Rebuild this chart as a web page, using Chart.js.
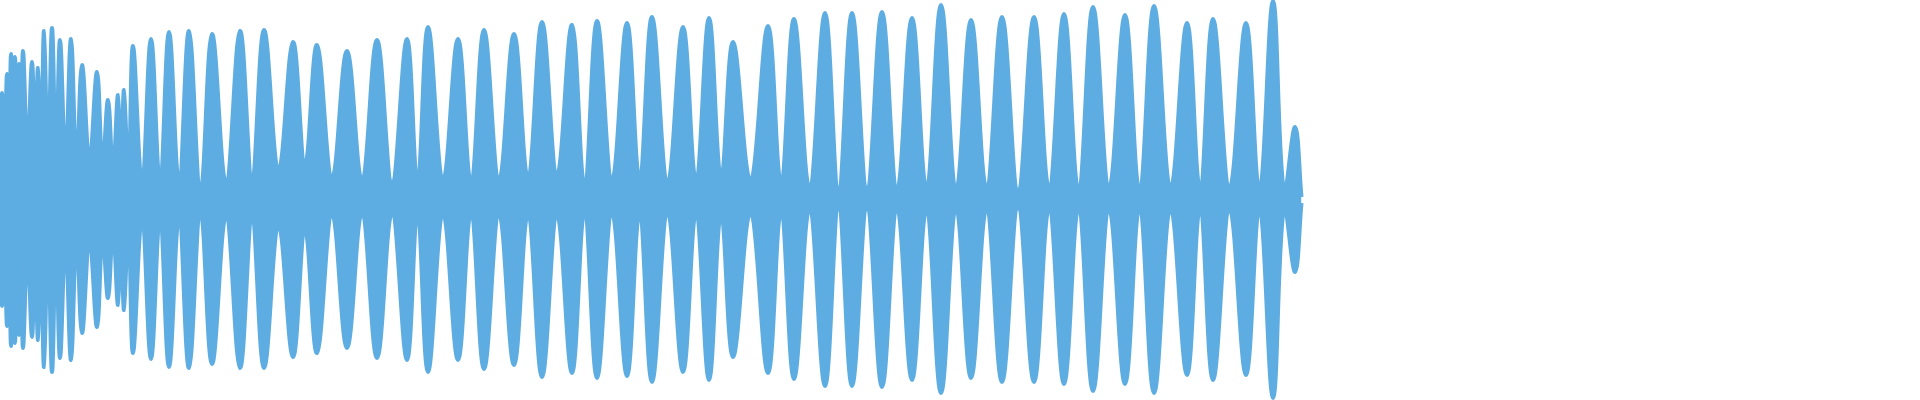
<!DOCTYPE html>
<html>
<head>
<meta charset="utf-8">
<script src="https://cdn.jsdelivr.net/npm/chart.js@4/dist/chart.umd.min.js"></script>
<style>
  html, body { margin: 0; padding: 0; background: #fff; }
  #wrap { width: 1920px; height: 400px; }
</style>
</head>
<body>
<div id="wrap"><canvas id="wave" width="1920" height="400"></canvas></div>
<script>
// Waveform envelope (y in pixels, 0 = top, centre = 200)
const lobeX = [2, 7, 11, 15, 19, 23, 32, 38, 44, 52, 60, 71, 82, 97, 108, 118, 124, 133, 151, 169,
  189, 212, 240, 264, 293, 317, 347, 377, 407, 428, 458, 484, 514, 542, 572, 597, 627, 652, 683, 709,
  733, 768, 794, 825, 852, 882, 912, 941, 971, 1002, 1034, 1064, 1093, 1125, 1154, 1187, 1213, 1246, 1273, 1295];
const upperPeak = [93, 74, 54, 57, 64, 51, 62, 68, 31, 28, 40, 39, 65, 72, 100, 95, 90, 46, 39, 32,
  31, 34, 31, 30, 42, 45, 51, 40, 39, 27, 39, 30, 34, 22, 25, 21, 23, 17, 27, 18,
  42, 26, 19, 13, 13, 12, 18, 5, 20, 17, 17, 14, 7, 15, 6, 23, 19, 23, 1, 127];
const lowerPeak = [306, 326, 346, 343, 335, 348, 337, 340, 367, 372, 358, 360, 333, 327, 298, 305, 310, 353, 359, 367,
  368, 364, 368, 368, 357, 353, 348, 358, 360, 372, 360, 369, 365, 377, 373, 378, 376, 382, 372, 380,
  357, 373, 379, 386, 386, 387, 380, 393, 378, 382, 382, 384, 391, 384, 393, 375, 380, 375, 398, 272];
// envelope between lobes (one value after each lobe)
const upperDip = [150, 150, 150, 150, 150, 150, 150, 155, 160, 160, 160, 165, 160, 165, 170, 175, 180, 182, 182, 182,
  190, 183, 175, 170, 165, 178, 180, 182, 182, 180, 182, 180, 178, 175, 185, 180, 178, 183, 180, 178,
  180, 182, 188, 188, 188, 190, 188, 190, 188, 190, 188, 190, 188, 190, 188, 188, 188, 190, 192, 197];
const lowerDip = [250, 250, 250, 250, 250, 250, 250, 245, 240, 240, 240, 235, 240, 235, 230, 225, 220, 218, 218, 218,
  212, 216, 222, 226, 230, 214, 213, 213, 213, 214, 213, 214, 214, 215, 212, 213, 214, 212, 213, 214,
  213, 212, 209, 209, 209, 208, 209, 208, 209, 208, 209, 208, 209, 208, 209, 209, 209, 208, 207, 203];
const startX = 0, startUpper = 150, startLower = 250;
const endX = 1308;

function envelope(peaks, dips, start) {
  const pts = [{ x: startX, y: start }];
  lobeX.forEach(function(x, i) {
    pts.push({ x: x, y: peaks[i] });
    const next = i + 1 < lobeX.length ? lobeX[i + 1] : endX;
    pts.push({ x: (x + next) / 2, y: dips[i] });
  });
  return pts;
}

const blue = '#5dade2';

new Chart(document.getElementById('wave'), {
  type: 'line',
  data: {
    datasets: [
      {
        data: envelope(upperPeak, upperDip, startUpper),
        borderColor: blue,
        backgroundColor: blue,
        borderWidth: 4,
        pointRadius: 0,
        tension: 0.4,
        fill: '+1'
      },
      {
        data: envelope(lowerPeak, lowerDip, startLower),
        borderColor: blue,
        backgroundColor: blue,
        borderWidth: 4,
        pointRadius: 0,
        tension: 0.4,
        fill: false
      }
    ]
  },
  options: {
    responsive: false,
    animation: false,
    layout: { padding: 0 },
    plugins: { legend: { display: false }, tooltip: { enabled: false } },
    scales: {
      x: { type: 'linear', min: 0, max: 1920, display: false },
      y: { min: 0, max: 400, reverse: true, display: false }
    }
  }
});
</script>
</body>
</html>
